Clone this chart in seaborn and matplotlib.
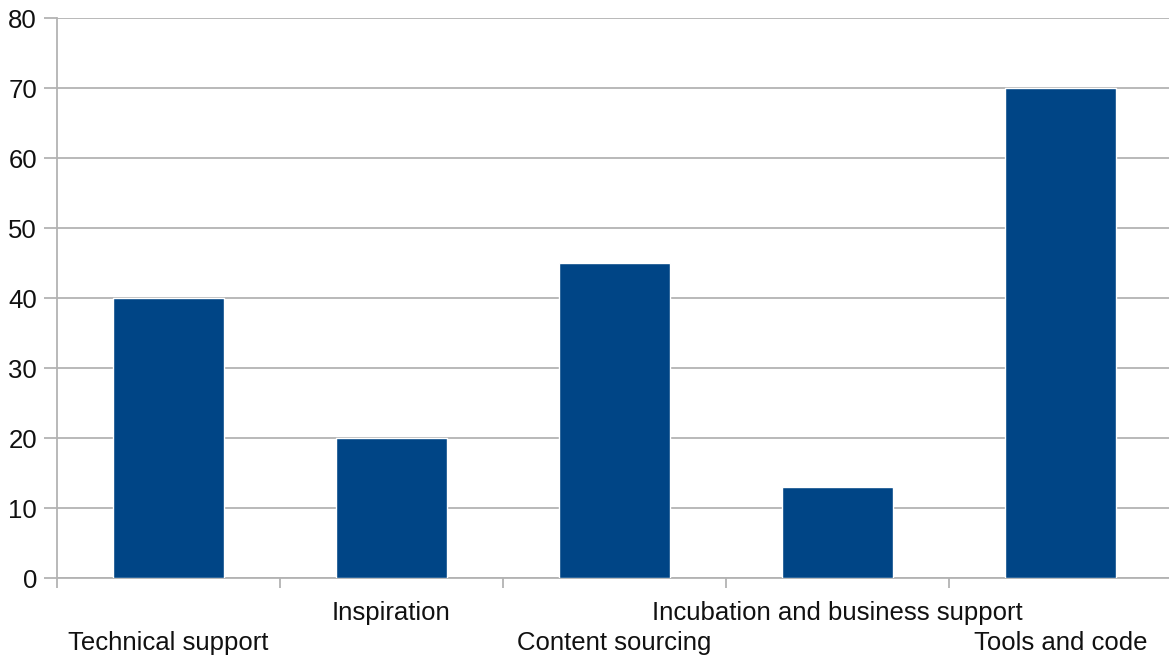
import matplotlib
matplotlib.use("Agg")
import matplotlib.pyplot as plt
import seaborn as sns
import pandas as pd
import numpy as np

categories = ["Technical support", "Inspiration", "Content sourcing",
              "Incubation and business support", "Tools and code"]
values = [40, 20, 45, 13, 70]
y_ticks = [0, 10, 20, 30, 40, 50, 60, 70, 80]

sns.set_style("white")
plt.rcParams['font.family'] = ['Liberation Sans', 'DejaVu Sans']

df = pd.DataFrame({"category": categories, "value": values})

fig = plt.figure(figsize=(11.69, 6.57), dpi=100)
ax = fig.add_axes([57/1169, 1 - 578/657, 1115/1169, (578 - 18)/657])

sns.barplot(data=df, x="category", y="value", color="#004586",
            saturation=1, width=0.5, ax=ax, zorder=3)

grid_c = "#b3b3b3"
fs = 18.5
ax.set_xlim(-0.5, len(categories) - 0.5)
ax.set_ylim(0, 80)
ax.set_yticks(y_ticks)
ax.set_yticklabels([str(v) for v in y_ticks], fontsize=fs, color="#111111")
ax.yaxis.grid(True, color=grid_c, linewidth=1.3, zorder=0)
ax.set_axisbelow(True)

for s in ["top", "right"]:
    ax.spines[s].set_visible(False)
for s in ["left", "bottom"]:
    ax.spines[s].set_color(grid_c)
    ax.spines[s].set_linewidth(1.3)
ax.spines["left"].set_bounds(0, 80)

ax.tick_params(axis="y", length=9.4, width=1.3, color=grid_c, pad=5, left=True)
ax.set_xticks(range(len(categories)))
ax.set_xticklabels(categories, fontsize=fs, color="#111111")
ax.tick_params(axis="x", which="major", length=0)
for i, t in enumerate(ax.xaxis.get_major_ticks()):
    t.set_pad(16.5 if i % 2 == 1 else 38.5)

ax.set_xticks(np.arange(-0.5, len(categories) - 0.4, 1.0), minor=True)
ax.tick_params(axis="x", which="minor", length=7, width=1.3, color=grid_c, bottom=True)

ax.set_xlabel("")
ax.set_ylabel("")

fig.savefig("out.png", dpi=100)
